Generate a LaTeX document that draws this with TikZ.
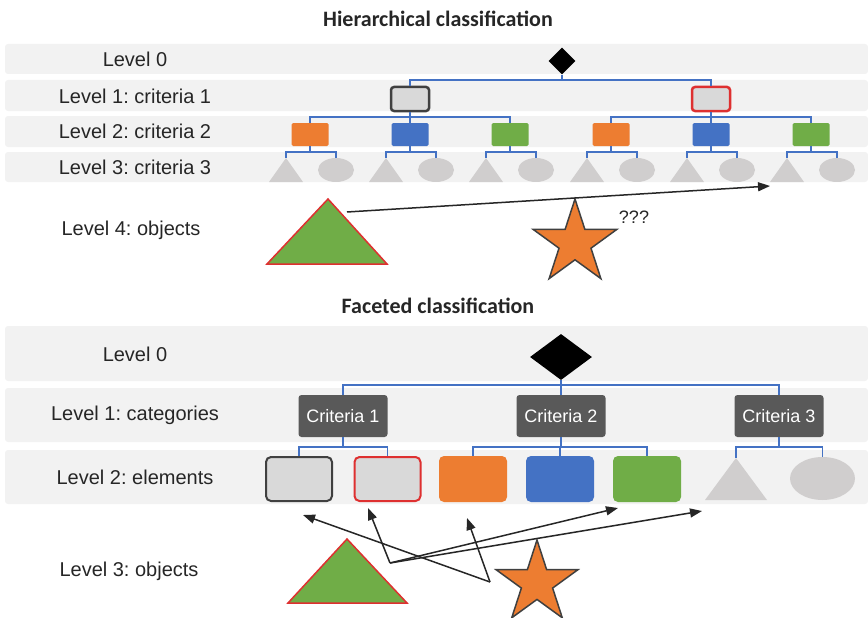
\documentclass[tikz,border=0pt]{standalone}
\usepackage{fontspec}
\setmainfont{Liberation Sans}
\newfontfamily\headfont{Carlito}
\usetikzlibrary{shapes.geometric,arrows.meta}
\frenchspacing

\definecolor{band}{RGB}{242,242,242}
\definecolor{linkblue}{RGB}{68,114,196}
\definecolor{orng}{RGB}{237,125,49}
\definecolor{blu}{RGB}{68,114,196}
\definecolor{grn}{RGB}{112,173,71}
\definecolor{lgray}{RGB}{217,217,217}
\definecolor{sgray}{RGB}{208,206,206}
\definecolor{dgray}{RGB}{89,89,89}
\definecolor{edgegray}{RGB}{64,64,64}
\definecolor{redge}{RGB}{222,48,48}
\definecolor{txt}{RGB}{38,38,38}

\begin{document}
\begin{tikzpicture}[x=1pt,y=-1pt,
  bandbox/.style={fill=band, rounded corners=3pt},
  lvl/.style={font=\fontsize{20}{22}\selectfont, text=txt},
  heading/.style={font=\headfont\bfseries\fontsize{22}{24}\selectfont, text=txt},
  link/.style={draw=linkblue, line width=1.8pt},
  arr/.style={draw=txt, line width=1.5pt, -{Triangle[length=12pt,width=9pt]}},
  root/.style={diamond, fill=black, inner sep=0pt},
  lonebox/.style={rectangle, rounded corners=3pt, fill=lgray, line width=2.5pt,
    minimum width=38pt, minimum height=24pt, inner sep=0pt},
  ltwobox/.style={rectangle, rounded corners=1.5pt, fill=#1,
    minimum width=37pt, minimum height=23pt, inner sep=0pt},
  tri/.style={rectangle, inner sep=0pt, path picture={
    \fill[sgray] (path picture bounding box.south west) --
      (path picture bounding box.south east) --
      (path picture bounding box.north) -- cycle;}},
  oval/.style={ellipse, fill=sgray, inner sep=0pt},
  critbox/.style={rectangle, rounded corners=3pt, fill=dgray, text=white,
    font=\fontsize{18}{20}\selectfont, minimum width=89pt, minimum height=42pt,
    inner sep=0pt},
  elembox/.style={rectangle, rounded corners=5pt, fill=#1,
    minimum width=68pt, minimum height=46pt, inner sep=0pt},
  bigtri/.style={fill=grn, draw=redge, line width=1.5pt, line join=miter},
  starshape/.style={star, star points=5, star point ratio=2.618, fill=orng,
    draw=edgegray, line width=1.5pt, inner sep=0pt}
]
\useasboundingbox (0,0) rectangle (868,618);

% ---------------- hierarchical classification ----------------
\node[heading] (htitle) at (438,19) {Hierarchical classification};

\fill[bandbox] (5,44) rectangle (868,74);
\fill[bandbox] (5,80) rectangle (868,111);
\fill[bandbox] (5,116) rectangle (868,147);
\fill[bandbox] (5,152) rectangle (868,182);

\node[lvl] (hl0) at (135,59) {Level 0};
\node[lvl] (hl1) at (135,96) {Level 1: criteria 1};
\node[lvl] (hl2) at (135,131) {Level 2: criteria 2};
\node[lvl] (hl3) at (135,167) {Level 3: criteria 3};
\node[lvl] (hl4) at (131,230) {Level 4: objects};

\node[root, minimum width=27pt, minimum height=27pt] (d0) at (562,61) {};
\node[lonebox, draw=edgegray] (h1a) at (410,99) {};
\node[lonebox, draw=redge] (h1b) at (711,99) {};

\foreach \i/\x/\c in {1/310/orng, 2/410/blu, 3/510/grn, 4/611/orng, 5/711/blu, 6/811/grn} {
  \node[ltwobox=\c] (h2\i) at (\x,134.5) {};
  \node[tri, minimum width=34pt, minimum height=24pt] (t\i) at (\x-24,170) {};
  \node[oval, minimum width=36pt, minimum height=24pt] (e\i) at (\x+26,170) {};
}

\coordinate (hb0) at (0,80);
\coordinate (hb1) at (0,117);
\coordinate (hb2) at (0,152);

\draw[link] (d0.south) -- (d0.south |- hb0);
\draw[link] (h1a.north) -- (h1a.north |- hb0) -- (h1b.north |- hb0) -- (h1b.north);

\draw[link] (h1a.south) -- (h22.north);
\draw[link] (h21.north) -- (h21.north |- hb1) -- (h23.north |- hb1) -- (h23.north);
\draw[link] (h1b.south) -- (h25.north);
\draw[link] (h24.north) -- (h24.north |- hb1) -- (h26.north |- hb1) -- (h26.north);

\foreach \i in {1,...,6} {
  \draw[link] (h2\i.south) -- (h2\i.south |- hb2);
  \draw[link] (t\i.north) -- (t\i.north |- hb2) -- (e\i.north |- hb2) -- (e\i.north);
}

% objects of level 4
\draw[bigtri] (328,199) -- (387,264) -- (267,264) -- cycle;
\node[starshape, minimum size=88pt] (s0) at (575,243) {};
\node[font=\fontsize{18}{20}\selectfont, text=txt] (qq) at (634,217) {???};

\coordinate (ha) at (347,212);
\coordinate (hz) at (770,186);
\draw[arr] (ha) -- (hz);

% ---------------- faceted classification ----------------
\node[heading] (ftitle) at (438,306) {Faceted classification};

\fill[bandbox] (5,326) rectangle (868,381);
\fill[bandbox] (5,388) rectangle (868,442);
\fill[bandbox] (5,450) rectangle (868,504);

\node[lvl] (fl0) at (135,354) {Level 0};
\node[lvl] (fl1) at (135,415) {Level 1: categories};
\node[lvl] (fl2) at (135,477) {Level 2: elements};
\node[lvl] (fl3) at (129,571) {Level 3: objects};

\node[root, minimum width=62pt, minimum height=46pt] (f0) at (561,357) {};

\node[critbox] (c1) at (343,416) {Criteria 1};
\node[critbox] (c2) at (561,416) {Criteria 2};
\node[critbox] (c3) at (779,416) {Criteria 3};

\node[elembox=lgray, draw=edgegray, line width=2pt, minimum width=66pt, minimum height=44pt] (g1) at (299,479) {};
\node[elembox=lgray, draw=redge, line width=2pt, minimum width=66pt, minimum height=44pt] (g2) at (387.5,479) {};
\node[elembox=orng] (g3) at (473,479) {};
\node[elembox=blu] (g4) at (560,479) {};
\node[elembox=grn] (g5) at (647,479) {};
\node[tri, minimum width=62pt, minimum height=42pt] (g6) at (736,479) {};
\node[oval, minimum width=65pt, minimum height=43pt] (g7) at (822.5,478.5) {};

\coordinate (fb0) at (0,385);
\coordinate (fb1) at (0,447);

\draw[link] (f0.south) -- (c2.north);
\draw[link] (c1.north) -- (c1.north |- fb0) -- (c3.north |- fb0) -- (c3.north);

\draw[link] (c1.south) -- (c1.south |- fb1);
\draw[link] (g1.north) -- (g1.north |- fb1) -- (g2.north |- fb1) -- (g2.north);
\draw[link] (c2.south) -- (c2.south |- fb1);
\draw[link] (g4.north) -- (g4.north |- fb1);
\draw[link] (g3.north) -- (g3.north |- fb1) -- (g5.north |- fb1) -- (g5.north);
\draw[link] (c3.south) -- (c3.south |- fb1);
\draw[link] (g6.north) -- (g6.north |- fb1) -- (g7.north |- fb1) -- (g7.north);

% objects of level 3
\draw[bigtri] (347,539) -- (407,603) -- (288,603) -- cycle;
\node[starshape, minimum size=86pt] (s1) at (537,583) {};

\coordinate (vs) at (490,582);
\coordinate (vt) at (390,563);
\coordinate (p1) at (303,515);
\coordinate (p2) at (467,518);
\coordinate (p3) at (368,508);
\coordinate (p4) at (618,508);
\coordinate (p5) at (702,511);
\draw[arr] (vs) -- (p1);
\draw[arr] (vs) -- (p2);
\draw[arr] (vt) -- (p3);
\draw[arr] (vt) -- (p4);
\draw[arr] (vt) -- (p5);
\end{tikzpicture}
\end{document}
